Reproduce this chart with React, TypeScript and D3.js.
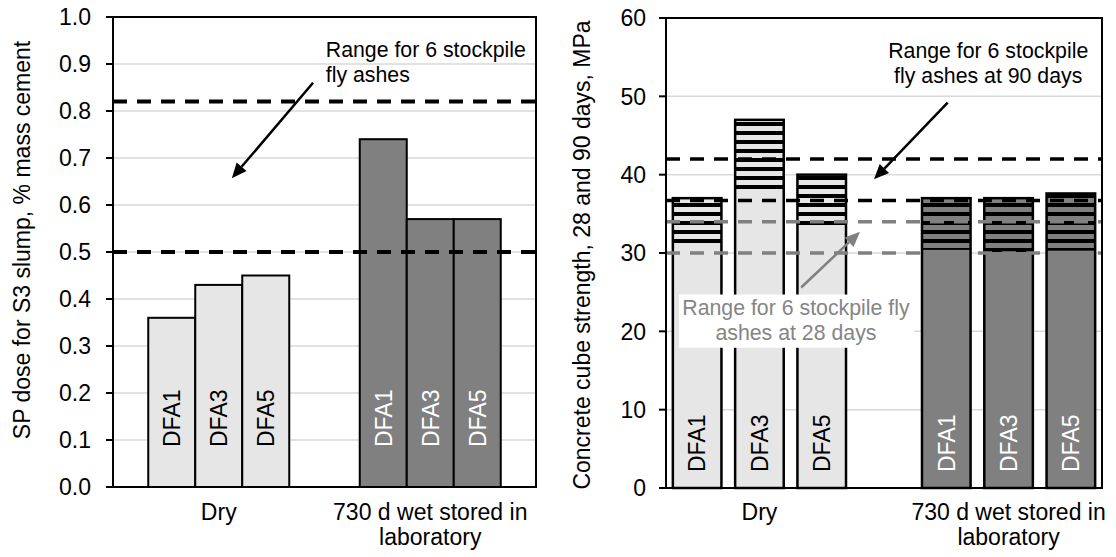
import * as d3 from 'd3';

const W = 1116;
const H = 557;
const FONT = "'Liberation Sans', Arial, sans-serif";
const FS = 23; // axis text
const FS_NOTE = 21.3; // text boxes

const SAMPLES = ['DFA1', 'DFA3', 'DFA5'];
const CONDITIONS = ['Dry', 'Wet'];
const CONDITION_LABELS = [['Dry'], ['730 d wet stored in', 'laboratory']];

// left chart: SP dose for S3 slump, % mass cement
const SP_DOSE_DRY = [0.36, 0.43, 0.45];
const SP_DOSE_WET = [0.74, 0.57, 0.57];
const SP_RANGE = [0.5, 0.82];
const SP_TICKS = [0, 0.1, 0.2, 0.3, 0.4, 0.5, 0.6, 0.7, 0.8, 0.9, 1.0];

// right chart: cube strength at 28 and 90 days, MPa
const STRENGTH_28_DRY = [31, 37.6, 33];
const STRENGTH_90_DRY = [37, 47, 40];
const STRENGTH_28_WET = [30.4, 29.6, 30.3];
const STRENGTH_90_WET = [37, 37, 37.6];
const RANGE_90 = [36.7, 42];
const RANGE_28 = [30, 34];
const STRENGTH_TICKS = [0, 10, 20, 30, 40, 50, 60];

const LIGHT = '#e6e6e6';
const DARK = '#808080';
const GRID = '#d9d9d9';
const GREY_TEXT = '#858585';

const Arrow = ({ x1, y1, x2, y2, color }: { x1: number; y1: number; x2: number; y2: number; color: string }) => {
    const ang = Math.atan2(y2 - y1, x2 - x1);
    const len = 15;
    const half = 6.5;
    const bx = x2 - len * Math.cos(ang);
    const by = y2 - len * Math.sin(ang);
    const px = -Math.sin(ang) * half;
    const py = Math.cos(ang) * half;
    return (
        <g>
            <line x1={x1} y1={y1} x2={bx} y2={by} stroke={color} strokeWidth={2.5} />
            <path d={`M${x2},${y2}L${bx + px},${by + py}L${bx - px},${by - py}Z`} fill={color} />
        </g>
    );
};

const YAxis = ({ y, ticks, left, right, fmt, gap }: any) => (
    <g>
        {ticks.map((t: number) => (
            <line key={'g' + t} x1={left} x2={right} y1={y(t)} y2={y(t)} stroke={GRID} strokeWidth={1.5} />
        ))}
        {ticks.map((t: number) => (
            <g key={'t' + t}>
                <line x1={left - 7} x2={left} y1={y(t)} y2={y(t)} stroke="#000" strokeWidth={2} />
                <text x={left - gap} y={y(t)} dy="0.36em" textAnchor="end" fontSize={FS}>
                    {fmt(t)}
                </text>
            </g>
        ))}
    </g>
);

const Frame = ({ left, right, top, bottom }: any) => (
    <rect x={left} y={top} width={right - left} height={bottom - top} fill="none" stroke="#000" strokeWidth={2} />
);

const RangeLine = ({ y, v, left, right, color, width }: any) => (
    <line x1={left} x2={right} y1={y(v)} y2={y(v)} stroke={color} strokeWidth={width} strokeDasharray="14,10" />
);

const CategoryLabel = ({ cx, lines }: { cx: number; lines: string[] }) => (
    <text x={cx} y={520} textAnchor="middle" fontSize={FS}>
        {lines.map((l, i) => (
            <tspan key={i} x={cx} dy={i === 0 ? 0 : 25}>
                {l}
            </tspan>
        ))}
    </text>
);

const SampleLabel = ({ cx, base, name, color }: any) => (
    <text transform={`translate(${cx + 8.3},${base}) rotate(-90)`} fontSize={FS} fill={color}>
        {name}
    </text>
);

const SpChart = () => {
    const pl = { left: 113, right: 536, top: 17, bottom: 487 };
    const y = d3.scaleLinear().domain([0, 1]).range([pl.bottom, pl.top]);
    const x = d3.scaleBand().domain(CONDITIONS).range([pl.left, pl.right]);
    const xi = d3.scaleBand().domain(SAMPLES).range([0, x.bandwidth()]).paddingOuter(0.75);
    const f = d3.scaleLinear().domain([0, 1]).range([pl.left, pl.right]);
    const series = [SP_DOSE_DRY, SP_DOSE_WET];

    return (
        <g>
            <YAxis y={y} ticks={SP_TICKS} left={pl.left} right={pl.right} fmt={d3.format('.1f')} gap={22} />
            {CONDITIONS.map((c, ci) =>
                SAMPLES.map((s, si) => {
                    const x0 = x(c)! + xi(s)!;
                    const v = series[ci][si];
                    return (
                        <g key={c + s}>
                            <rect
                                x={x0}
                                y={y(v)}
                                width={xi.bandwidth()}
                                height={y(0) - y(v)}
                                fill={ci === 0 ? LIGHT : DARK}
                                stroke="#000"
                                strokeWidth={2}
                            />
                            <SampleLabel
                                cx={x0 + xi.bandwidth() / 2}
                                base={pl.bottom - 40}
                                name={s}
                                color={ci === 0 ? '#000' : '#fff'}
                            />
                        </g>
                    );
                })
            )}
            {SP_RANGE.map((v) => (
                <RangeLine key={v} y={y} v={v} left={pl.left} right={pl.right} color="#000" width={4} />
            ))}
            <Frame {...pl} />
            <text x={f(0.503)} y={y(0.9155)} fontSize={FS_NOTE}>
                <tspan x={f(0.503)}>Range for 6 stockpile</tspan>
                <tspan x={f(0.503)} dy={25}>
                    fly ashes
                </tspan>
            </text>
            <Arrow x1={f(0.473)} y1={y(0.86)} x2={f(0.281)} y2={y(0.657)} color="#000" />
            {CONDITIONS.map((c, ci) => (
                <CategoryLabel key={c} cx={x(c)! + x.bandwidth() / 2} lines={CONDITION_LABELS[ci]} />
            ))}
            <text transform={`translate(30,240) rotate(-90)`} textAnchor="middle" fontSize={FS}>
                SP dose for S3 slump, % mass cement
            </text>
        </g>
    );
};

const StrengthChart = () => {
    const pl = { left: 666, right: 1102, top: 18, bottom: 488 };
    const y = d3.scaleLinear().domain([0, 60]).range([pl.bottom, pl.top]);
    const slots = [...SAMPLES.map((s) => 'Dry|' + s), 'gap', ...SAMPLES.map((s) => 'Wet|' + s)];
    const x = d3.scaleBand().domain(slots).range([pl.left, pl.right]).paddingInner(0.22).paddingOuter(0.11);
    const f = d3.scaleLinear().domain([0, 1]).range([pl.left, pl.right]);
    const s28 = [STRENGTH_28_DRY, STRENGTH_28_WET];
    const s90 = [STRENGTH_90_DRY, STRENGTH_90_WET];
    const bw = x.bandwidth();

    return (
        <g>
            <defs>
                <pattern id="hatchLight" patternUnits="userSpaceOnUse" width={10} height={9}>
                    <rect width={10} height={9} fill={LIGHT} />
                    <rect y={5} width={10} height={4} fill="#000" />
                </pattern>
                <pattern id="hatchDark" patternUnits="userSpaceOnUse" width={10} height={9}>
                    <rect width={10} height={9} fill={DARK} />
                    <rect y={5} width={10} height={4} fill="#000" />
                </pattern>
            </defs>
            <YAxis y={y} ticks={STRENGTH_TICKS} left={pl.left} right={pl.right} fmt={d3.format('d')} gap={20} />
            {CONDITIONS.map((c, ci) =>
                SAMPLES.map((s, si) => {
                    const x0 = x(c + '|' + s)!;
                    const v90 = s90[ci][si];
                    const v28 = s28[ci][si];
                    return (
                        <g key={c + s}>
                            <rect
                                x={x0}
                                y={y(v90)}
                                width={bw}
                                height={y(0) - y(v90)}
                                fill={ci === 0 ? 'url(#hatchLight)' : 'url(#hatchDark)'}
                            />
                            <rect x={x0} y={y(v28)} width={bw} height={y(0) - y(v28)} fill={ci === 0 ? LIGHT : DARK} />
                            <rect
                                x={x0}
                                y={y(v90)}
                                width={bw}
                                height={y(0) - y(v90)}
                                fill="none"
                                stroke="#000"
                                strokeWidth={2.5}
                            />
                            <SampleLabel cx={x0 + bw / 2} base={pl.bottom - 16} name={s} color={ci === 0 ? '#000' : '#fff'} />
                        </g>
                    );
                })
            )}
            {RANGE_90.map((v) => (
                <RangeLine key={'b' + v} y={y} v={v} left={pl.left} right={pl.right} color="#000" width={3.5} />
            ))}
            {RANGE_28.map((v) => (
                <RangeLine key={'g' + v} y={y} v={v} left={pl.left} right={pl.right} color={DARK} width={3.5} />
            ))}
            <Frame {...pl} />
            <text x={f(0.739)} y={y(54.9)} textAnchor="middle" fontSize={FS_NOTE}>
                <tspan x={f(0.739)}>Range for 6 stockpile</tspan>
                <tspan x={f(0.739)} dy={25}>
                    fly ashes at 90 days
                </tspan>
            </text>
            <Arrow x1={f(0.646)} y1={y(49.2)} x2={f(0.477)} y2={y(39.4)} color="#000" />
            <Arrow x1={f(0.31)} y1={y(25.6)} x2={f(0.445)} y2={y(32.7)} color={DARK} />
            <rect x={f(0.03)} y={y(24.7)} width={f(0.569) - f(0.03)} height={y(17.9) - y(24.7)} fill="#fff" />
            <text x={f(0.298)} y={y(22.1)} textAnchor="middle" fontSize={FS_NOTE} fill={GREY_TEXT}>
                <tspan x={f(0.298)}>Range for 6 stockpile fly</tspan>
                <tspan x={f(0.298)} dy={25}>
                    ashes at 28 days
                </tspan>
            </text>
            {CONDITIONS.map((c, ci) => (
                <CategoryLabel key={c} cx={x(c + '|DFA3')! + bw / 2} lines={CONDITION_LABELS[ci]} />
            ))}
            <text transform={`translate(590,255) rotate(-90)`} textAnchor="middle" fontSize={FS}>
                Concrete cube strength, 28 and 90 days, MPa
            </text>
        </g>
    );
};

export default function App() {
    return (
        <svg
            width={W}
            height={H}
            style={{ position: 'absolute', left: 0, top: 0, background: '#fff' }}
            fontFamily={FONT}
        >
            <rect width={W} height={H} fill="#fff" />
            <SpChart />
            <StrengthChart />
        </svg>
    );
}
